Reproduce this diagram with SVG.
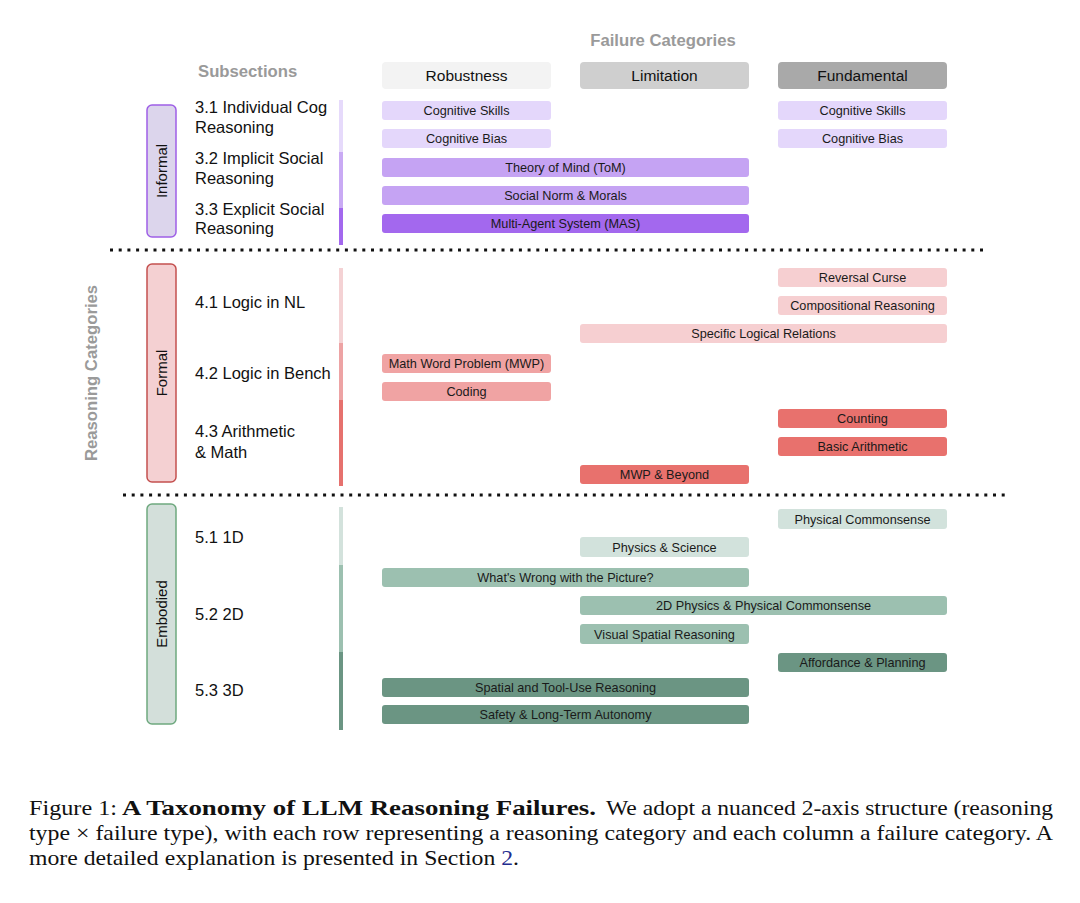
<svg xmlns="http://www.w3.org/2000/svg" width="1080" height="903" viewBox="0 0 1080 903">
<style>
.hdr{font-family:"Liberation Sans",Arial,sans-serif;font-size:16.7px;font-weight:bold;fill:#9a9a9a}
.col{font-family:"Liberation Sans",Arial,sans-serif;font-size:15.5px;fill:#111;text-anchor:middle}
.sub{font-family:"Liberation Sans",Arial,sans-serif;font-size:16.5px;fill:#111}
.bt{font-family:"Liberation Sans",Arial,sans-serif;font-size:12.7px;fill:#1a1a1a;text-anchor:middle}
.cat{font-family:"Liberation Sans",Arial,sans-serif;font-size:15px;fill:#111;text-anchor:middle}
.cap{font-family:"Liberation Serif","Times New Roman",serif;font-size:21px;fill:#111}
.dots{stroke:#111;stroke-width:3;stroke-dasharray:3 5.7;fill:none}
.p1{fill:#e4d7fb}.p2{fill:#c5a3f3}.p3{fill:#a368ee}
.r1{fill:#f6cfd1}.r2{fill:#f0a3a3}.r3{fill:#e8716d}
.g1{fill:#d2e2dc}.g2{fill:#9cc0b0}.g3{fill:#6b9583}
</style>

<!-- Headers -->
<text class="hdr" x="663" y="46" text-anchor="middle">Failure Categories</text>
<text class="hdr" x="198" y="77">Subsections</text>
<text class="hdr" transform="translate(97,373) rotate(-90)" text-anchor="middle">Reasoning Categories</text>

<g id="col-robustness"><rect x="382" y="62" width="169" height="27" rx="4" fill="#f3f3f3"/><text class="col" x="466.5" y="81">Robustness</text></g>
<g id="col-limitation"><rect x="580" y="62" width="169" height="27" rx="4" fill="#cfcfcf"/><text class="col" x="664.5" y="81">Limitation</text></g>
<g id="col-fundamental"><rect x="778" y="62" width="169" height="27" rx="4" fill="#a9a9a9"/><text class="col" x="862.5" y="81">Fundamental</text></g>

<!-- Separators -->
<g id="separators">
<line class="dots" x1="110" y1="250" x2="985" y2="250"/>
<line class="dots" x1="123" y1="495" x2="1008" y2="495"/>
</g>

<!-- Category boxes -->
<g id="cat-informal"><rect x="147" y="105" width="29" height="132" rx="5" fill="#dcd5ec" stroke="#9e5fe6" stroke-width="1.5"/><text class="cat" transform="translate(167,171) rotate(-90)">Informal</text></g>
<g id="cat-formal"><rect x="147" y="264" width="29" height="218" rx="5" fill="#f4d0d2" stroke="#c4504f" stroke-width="1.5"/><text class="cat" transform="translate(167,373) rotate(-90)">Formal</text></g>
<g id="cat-embodied"><rect x="147" y="504" width="29" height="220" rx="5" fill="#d3dfda" stroke="#6fa97f" stroke-width="1.5"/><text class="cat" transform="translate(167,614) rotate(-90)">Embodied</text></g>

<!-- Subsection labels -->
<g id="subsections">
<text class="sub" x="195" y="113">3.1 Individual Cog</text>
<text class="sub" x="195" y="133">Reasoning</text>
<text class="sub" x="195" y="164">3.2 Implicit Social</text>
<text class="sub" x="195" y="184">Reasoning</text>
<text class="sub" x="195" y="215">3.3 Explicit Social</text>
<text class="sub" x="195" y="234">Reasoning</text>
<text class="sub" x="195" y="308">4.1 Logic in NL</text>
<text class="sub" x="195" y="379">4.2 Logic in Bench</text>
<text class="sub" x="195" y="437">4.3 Arithmetic</text>
<text class="sub" x="195" y="458">&amp; Math</text>
<text class="sub" x="195" y="543">5.1 1D</text>
<text class="sub" x="195" y="620">5.2 2D</text>
<text class="sub" x="195" y="696">5.3 3D</text>
</g>

<!-- Vertical bars -->
<g id="vbars">
<rect x="339" y="100" width="4" height="52" fill="#e6dafb"/>
<rect x="339" y="152" width="4" height="56" fill="#c9aaf4"/>
<rect x="339" y="208" width="4" height="37" fill="#a368ee"/>
<rect x="339" y="268" width="4" height="75" fill="#f4d2d4"/>
<rect x="339" y="343" width="4" height="57" fill="#eda3a4"/>
<rect x="339" y="400" width="4" height="86" fill="#e6716e"/>
<rect x="339" y="507" width="4" height="58" fill="#d3e2dc"/>
<rect x="339" y="565" width="4" height="87" fill="#9cc0b0"/>
<rect x="339" y="652" width="4" height="78" fill="#6b9583"/>
</g>

<!-- Informal bars -->
<g id="n-cog-skills-r"><rect class="p1" x="382" y="101" width="169" height="19" rx="3"/><text class="bt" x="466.5" y="115">Cognitive Skills</text></g>
<g id="n-cog-bias-r"><rect class="p1" x="382" y="129" width="169" height="19" rx="3"/><text class="bt" x="466.5" y="143">Cognitive Bias</text></g>
<g id="n-cog-skills-f"><rect class="p1" x="778" y="101" width="169" height="19" rx="3"/><text class="bt" x="862.5" y="115">Cognitive Skills</text></g>
<g id="n-cog-bias-f"><rect class="p1" x="778" y="129" width="169" height="19" rx="3"/><text class="bt" x="862.5" y="143">Cognitive Bias</text></g>
<g id="n-tom"><rect class="p2" x="382" y="158" width="367" height="19" rx="3"/><text class="bt" x="565.5" y="172">Theory of Mind (ToM)</text></g>
<g id="n-social-norm"><rect class="p2" x="382" y="186" width="367" height="19" rx="3"/><text class="bt" x="565.5" y="200">Social Norm &amp; Morals</text></g>
<g id="n-mas"><rect class="p3" x="382" y="214" width="367" height="19" rx="3"/><text class="bt" x="565.5" y="228">Multi-Agent System (MAS)</text></g>

<!-- Formal bars -->
<g id="n-reversal"><rect class="r1" x="778" y="268" width="169" height="19" rx="3"/><text class="bt" x="862.5" y="282">Reversal Curse</text></g>
<g id="n-compositional"><rect class="r1" x="778" y="296" width="169" height="19" rx="3"/><text class="bt" x="862.5" y="310">Compositional Reasoning</text></g>
<g id="n-specific-logic"><rect class="r1" x="580" y="324" width="367" height="19" rx="3"/><text class="bt" x="763.5" y="338">Specific Logical Relations</text></g>
<g id="n-mwp"><rect class="r2" x="382" y="354" width="169" height="19" rx="3"/><text class="bt" x="466.5" y="368">Math Word Problem (MWP)</text></g>
<g id="n-coding"><rect class="r2" x="382" y="382" width="169" height="19" rx="3"/><text class="bt" x="466.5" y="396">Coding</text></g>
<g id="n-counting"><rect class="r3" x="778" y="409" width="169" height="19" rx="3"/><text class="bt" x="862.5" y="423">Counting</text></g>
<g id="n-basic-arith"><rect class="r3" x="778" y="437" width="169" height="19" rx="3"/><text class="bt" x="862.5" y="451">Basic Arithmetic</text></g>
<g id="n-mwp-beyond"><rect class="r3" x="580" y="465" width="169" height="19" rx="3"/><text class="bt" x="664.5" y="479">MWP &amp; Beyond</text></g>

<!-- Embodied bars -->
<g id="n-phys-common"><rect class="g1" x="778" y="509" width="169" height="20" rx="3"/><text class="bt" x="862.5" y="524">Physical Commonsense</text></g>
<g id="n-phys-science"><rect class="g1" x="580" y="537" width="169" height="20" rx="3"/><text class="bt" x="664.5" y="552">Physics &amp; Science</text></g>
<g id="n-whats-wrong"><rect class="g2" x="382" y="568" width="367" height="19" rx="3"/><text class="bt" x="565.5" y="582">What's Wrong with the Picture?</text></g>
<g id="n-2d-physics"><rect class="g2" x="580" y="596" width="367" height="19" rx="3"/><text class="bt" x="763.5" y="610">2D Physics &amp; Physical Commonsense</text></g>
<g id="n-visual-spatial"><rect class="g2" x="580" y="624" width="169" height="20" rx="3"/><text class="bt" x="664.5" y="639">Visual Spatial Reasoning</text></g>
<g id="n-affordance"><rect class="g3" x="778" y="653" width="169" height="19" rx="3"/><text class="bt" x="862.5" y="667">Affordance &amp; Planning</text></g>
<g id="n-spatial-tool"><rect class="g3" x="382" y="678" width="367" height="19" rx="3"/><text class="bt" x="565.5" y="692">Spatial and Tool-Use Reasoning</text></g>
<g id="n-safety"><rect class="g3" x="382" y="705" width="367" height="19" rx="3"/><text class="bt" x="565.5" y="719">Safety &amp; Long-Term Autonomy</text></g>

<!-- Caption -->
<g id="caption">
<text class="cap" x="29" y="815" textLength="88" lengthAdjust="spacingAndGlyphs">Figure 1:</text>
<text class="cap" x="122" y="815" font-weight="bold" textLength="474" lengthAdjust="spacingAndGlyphs">A Taxonomy of LLM Reasoning Failures.</text>
<text class="cap" x="606" y="815" textLength="447" lengthAdjust="spacingAndGlyphs">We adopt a nuanced 2-axis structure (reasoning</text>
<text class="cap" x="29" y="840" textLength="1024" lengthAdjust="spacingAndGlyphs">type × failure type), with each row representing a reasoning category and each column a failure category. A</text>
<text class="cap" x="29" y="865" textLength="490" lengthAdjust="spacingAndGlyphs">more detailed explanation is presented in Section <tspan fill="#1f2d8f">2</tspan>.</text>
</g>
</svg>
